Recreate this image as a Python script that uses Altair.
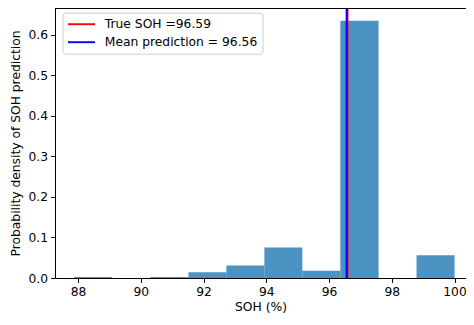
import altair as alt
import pandas as pd

# Histogram data (density per bin)
bin_edges = [87.88, 89.09, 90.30, 91.52, 92.73, 93.94, 95.15, 96.36, 97.58, 98.79, 100.0]
densities = [0.0025, 0.0, 0.0025, 0.014, 0.031, 0.075, 0.018, 0.635, 0.0, 0.056]

# Vertical reference lines
line_labels = ["True SOH =96.59", "Mean prediction = 96.56"]
line_values = [96.59, 96.56]
line_colors = ["red", "blue"]

x_ticks = [88, 90, 92, 94, 96, 98, 100]
y_ticks = [0.0, 0.1, 0.2, 0.3, 0.4, 0.5, 0.6]

FONT = "DejaVu Sans"
FS = 12.3
W, H = 411, 270

bars_df = pd.DataFrame({
    "start": bin_edges[:-1],
    "end": bin_edges[1:],
    "density": densities,
})
lines_df = pd.DataFrame({"label": line_labels, "value": line_values})

x_scale = alt.Scale(domain=[87.267, 100.366], nice=False, zero=False, padding=0)
y_scale = alt.Scale(domain=[0, 0.6666], nice=False, padding=0)

bars = alt.Chart(bars_df).mark_bar(color="#1f77b4", opacity=0.8, strokeWidth=0).encode(
    x=alt.X("start:Q", scale=x_scale,
            axis=alt.Axis(values=x_ticks, format="d", title="SOH (%)")),
    x2="end:Q",
    y=alt.Y("density:Q", scale=y_scale,
            axis=alt.Axis(values=y_ticks, format=".1f",
                          title="Probability density of SOH prediction")),
    y2=alt.datum(0),
)

rules = alt.Chart(lines_df).mark_rule(strokeWidth=1.9).encode(
    x=alt.X("value:Q", scale=x_scale),
    color=alt.Color(
        "label:N",
        sort=line_labels,
        scale=alt.Scale(domain=line_labels, range=line_colors),
        legend=alt.Legend(
            title=None,
            orient="none",
            legendX=7.5,
            legendY=4.7,
            symbolType="M-1,0H3.5",
            symbolSize=144,
            symbolStrokeWidth=1.9,
            labelFont=FONT,
            labelFontSize=FS,
            labelColor="black",
            labelOffset=23.8,
            labelLimit=0,
            padding=4.5,
            rowPadding=4,
            strokeColor="#cccccc",
            fillColor="rgba(255,255,255,0.8)",
            cornerRadius=3,
        ),
    ),
)

top_frame = alt.Chart(pd.DataFrame({"k": [0]})).mark_rule(color="black", strokeWidth=1).encode(
    y=alt.value(0.5), x=alt.value(0), x2=alt.value(W)
)

chart = (
    alt.layer(bars, rules, top_frame)
    .properties(
        width=W,
        height=H,
        autosize=alt.AutoSizeParams(type="none"),
        padding={"left": 47, "top": 0, "right": 0, "bottom": 37},
    )
    .configure_view(stroke=None)
    .configure_axis(
        grid=False,
        domainColor="black",
        domainWidth=1,
        tickColor="black",
        tickWidth=1,
        tickSize=4.4,
        labelFont=FONT,
        labelFontSize=FS,
        labelColor="black",
        labelPadding=3,
        titleFont=FONT,
        titleFontSize=FS,
        titleFontWeight="normal",
        titleColor="black",
    )
    .configure_axisX(titlePadding=3)
    .configure_axisY(titlePadding=6)
)

chart.save("out.html", embed_options={"renderer": "svg", "actions": False})
